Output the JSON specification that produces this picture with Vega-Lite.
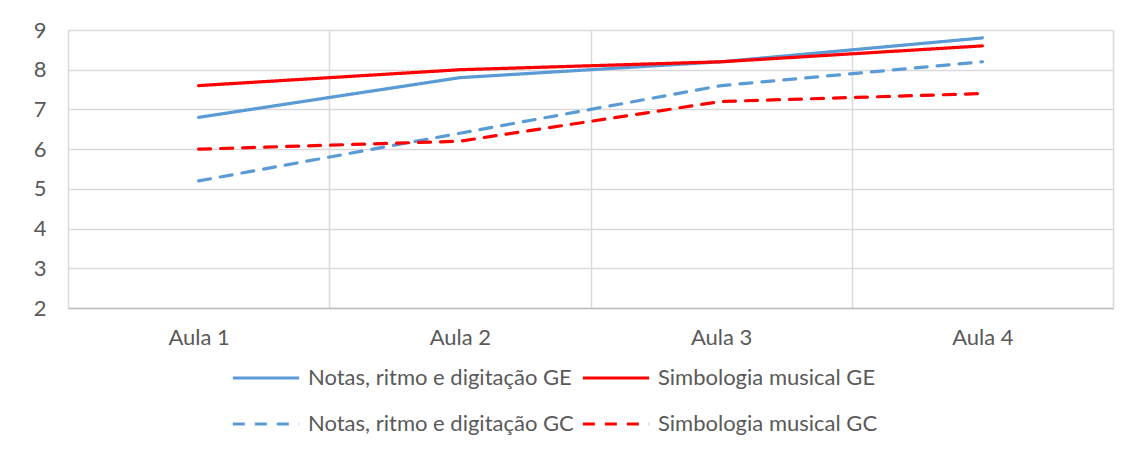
{
  "$schema": "https://vega.github.io/schema/vega-lite/v6.json",
  "autosize": "none",
  "width": 1045,
  "height": 278,
  "padding": {"left": 68, "top": 30, "right": 18, "bottom": 142},
  "background": "white",
  "config": {
    "font": "Lato",
    "view": {"stroke": null},
    "axis": {"labelFont": "Lato", "labelFontSize": 22, "labelColor": "#595959", "gridColor": "#D9D9D9", "gridWidth": 1.5}
  },
  "data": {
    "values": [
      {"aula": "Aula 1", "serie": "Notas, ritmo e digitação GE", "nota": 6.8},
      {"aula": "Aula 2", "serie": "Notas, ritmo e digitação GE", "nota": 7.8},
      {"aula": "Aula 3", "serie": "Notas, ritmo e digitação GE", "nota": 8.2},
      {"aula": "Aula 4", "serie": "Notas, ritmo e digitação GE", "nota": 8.8},
      {"aula": "Aula 1", "serie": "Simbologia musical GE", "nota": 7.6},
      {"aula": "Aula 2", "serie": "Simbologia musical GE", "nota": 8.0},
      {"aula": "Aula 3", "serie": "Simbologia musical GE", "nota": 8.2},
      {"aula": "Aula 4", "serie": "Simbologia musical GE", "nota": 8.6},
      {"aula": "Aula 1", "serie": "Notas, ritmo e digitação GC", "nota": 5.2},
      {"aula": "Aula 2", "serie": "Notas, ritmo e digitação GC", "nota": 6.4},
      {"aula": "Aula 3", "serie": "Notas, ritmo e digitação GC", "nota": 7.6},
      {"aula": "Aula 4", "serie": "Notas, ritmo e digitação GC", "nota": 8.2},
      {"aula": "Aula 1", "serie": "Simbologia musical GC", "nota": 6.0},
      {"aula": "Aula 2", "serie": "Simbologia musical GC", "nota": 6.2},
      {"aula": "Aula 3", "serie": "Simbologia musical GC", "nota": 7.2},
      {"aula": "Aula 4", "serie": "Simbologia musical GC", "nota": 7.4}
    ]
  },
  "mark": {"type": "line", "strokeWidth": 3.2, "strokeCap": "round"},
  "encoding": {
    "x": {
      "field": "aula", "type": "nominal",
      "scale": {"type": "band", "paddingInner": 0, "paddingOuter": 0},
      "axis": {"title": null, "labelAngle": 0, "tickBand": "extent", "grid": true, "ticks": false, "domainColor": "#BFBFBF", "domainWidth": 1.5, "labelPadding": 19}
    },
    "y": {
      "field": "nota", "type": "quantitative",
      "scale": {"domain": [2, 9], "nice": false, "zero": false},
      "axis": {"title": null, "values": [2, 3, 4, 5, 6, 7, 8, 9], "ticks": false, "domain": false, "labelPadding": 22}
    },
    "color": {
      "field": "serie", "type": "nominal",
      "scale": {
        "domain": ["Notas, ritmo e digitação GE", "Notas, ritmo e digitação GC", "Simbologia musical GE", "Simbologia musical GC"],
        "range": ["#5B9BD5", "#5B9BD5", "#FF0000", "#FF0000"]
      },
      "legend": {
        "title": null, "orient": "none", "legendX": 163, "legendY": 313, "columns": 2,
        "symbolType": "stroke", "symbolSize": 4400, "symbolStrokeWidth": 3.2,
        "labelFont": "Lato", "labelFontSize": 22, "labelColor": "#595959", "labelOffset": 7,
        "columnPadding": 2, "rowPadding": -22, "labelLimit": 400
      }
    },
    "strokeDash": {
      "field": "serie", "type": "nominal",
      "scale": {
        "domain": ["Notas, ritmo e digitação GE", "Notas, ritmo e digitação GC", "Simbologia musical GE", "Simbologia musical GC"],
        "range": [[1, 0], [12, 10], [1, 0], [12, 10]]
      },
      "legend": {
        "title": null, "orient": "none", "legendX": 163, "legendY": 313, "columns": 2,
        "symbolType": "stroke", "symbolSize": 4400, "symbolStrokeWidth": 3.2,
        "labelFont": "Lato", "labelFontSize": 22, "labelColor": "#595959", "labelOffset": 7,
        "columnPadding": 2, "rowPadding": -22, "labelLimit": 400
      }
    }
  }
}
